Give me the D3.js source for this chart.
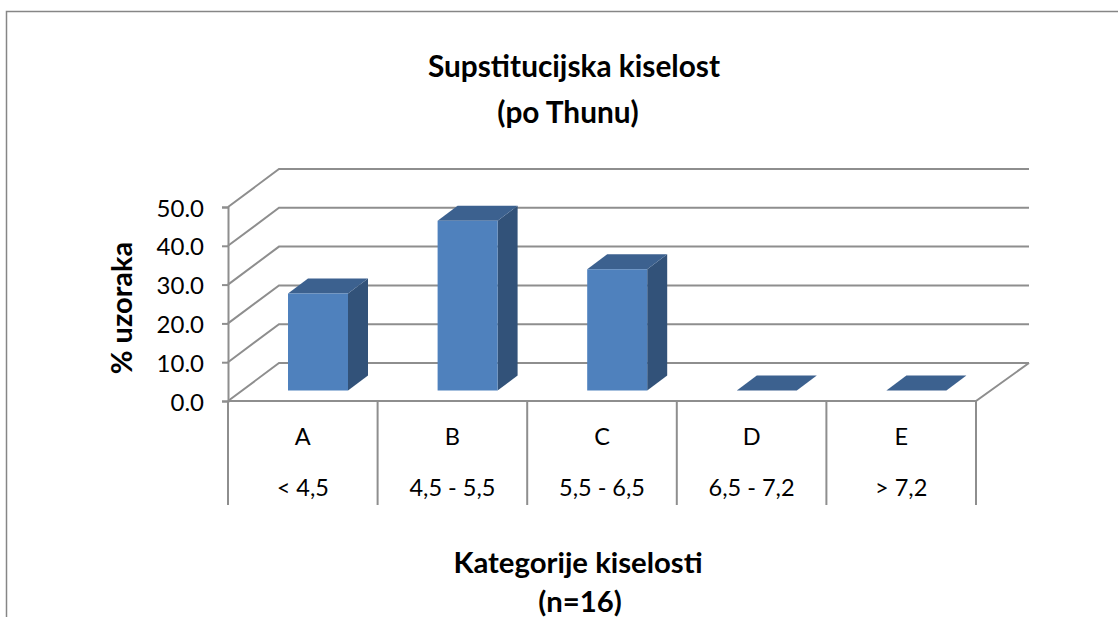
<!DOCTYPE html>
<html>
<head>
<meta charset="utf-8">
<script src="https://cdnjs.cloudflare.com/ajax/libs/d3/7.8.5/d3.min.js"></script>
<style>
  html, body { margin: 0; padding: 0; background: #fff; overflow: hidden; }
  svg { display: block; }
  text { font-family: Lato, sans-serif; fill: #000; }
</style>
</head>
<body>
<svg></svg>
<script>
// data

const categories = ['A', 'B', 'C', 'D', 'E'];
const ranges = ['< 4,5', '4,5 - 5,5', '5,5 - 6,5', '6,5 - 7,2', '> 7,2'];
const values = [25, 43.75, 31.25, 0, 0];
const yTicks = [0, 10, 20, 30, 40, 50];
const titleLines = ['Supstitucijska kiselost', '(po Thunu)'];
const xTitleLines = ['Kategorije kiselosti', '(n=16)'];
const yTitle = '% uzoraka';

// root svg element

const width = 1118, height = 617;

const svg = d3.select('svg')
  .attr('width', width)
  .attr('height', height);

const gridColor = '#8e8e8e';

// outer frame of the chart

svg.append('path')
  .attr('d', `M6.5,${height}V11.5H${width}`)
  .attr('fill', 'none')
  .attr('stroke', '#868686')
  .attr('stroke-width', 1.5);

// scales

const xScale = d3.scaleBand()
  .domain(categories)
  .range([228, 976]);

const yScale = d3.scaleLinear()
  .domain([0, 50])
  .range([401, 207]);

// 3d offsets: wall depth, bar depth, and where a bar stands on the floor
const wall = { dx: 51, dy: -38 };
const bar = { dx: 20, dy: -15, lift: 10.5, inset: 60, width: 60 };

// back wall grid lines with their slanted part on the side wall

const gridLine = d3.line();

const gridG = svg.append('g')
  .attr('fill', 'none')
  .attr('stroke', gridColor)
  .attr('stroke-width', 2);

gridG.selectAll('path')
  .data(yTicks)
  .enter()
  .append('path')
  .attr('d', d => gridLine([
    [xScale.range()[0], yScale(d)],
    [xScale.range()[0] + wall.dx, yScale(d) + wall.dy],
    [xScale.range()[1] + wall.dx + 2, yScale(d) + wall.dy]
  ]));

// floor front edge and right edge

gridG.append('path')
  .attr('d', gridLine([
    [xScale.range()[0], yScale(0)],
    [xScale.range()[1], yScale(0)],
    [xScale.range()[1] + wall.dx + 2, yScale(0) + wall.dy]
  ]));

// y-axis

const yAxis = d3.axisLeft(yScale)
  .tickValues(yTicks)
  .tickSize(6)
  .tickPadding(18)
  .tickFormat(d3.format('.1f'));

const yAxisG = svg.append('g')
  .attr('transform', `translate(${xScale.range()[0]},0)`)
  .call(yAxis);

yAxisG.selectAll('path, line')
  .attr('stroke', gridColor)
  .attr('stroke-width', 2);

yAxisG.selectAll('text')
  .attr('dy', '0.38em')
  .style('font-family', 'Lato, sans-serif')
  .style('font-size', '24px');

// category axis, two label rows split by long separators

const sepBottom = 505;

svg.append('g')
  .selectAll('line')
  .data(categories.concat(['end']))
  .enter()
  .append('line')
  .attr('x1', (d, i) => i < categories.length ? xScale(d) : xScale.range()[1])
  .attr('x2', (d, i) => i < categories.length ? xScale(d) : xScale.range()[1])
  .attr('y1', yScale(0))
  .attr('y2', sepBottom)
  .attr('stroke', gridColor)
  .attr('stroke-width', 2);

svg.append('g')
  .selectAll('text')
  .data(categories)
  .enter()
  .append('text')
  .attr('x', d => xScale(d) + xScale.bandwidth() / 2)
  .attr('y', 445)
  .attr('text-anchor', 'middle')
  .style('font-size', '23.5px')
  .text(d => d);

svg.append('g')
  .selectAll('text')
  .data(ranges)
  .enter()
  .append('text')
  .attr('x', (d, i) => xScale(categories[i]) + xScale.bandwidth() / 2)
  .attr('y', 496)
  .attr('text-anchor', 'middle')
  .style('font-size', '23.5px')
  .text(d => d);

// bars: side, top, then front face

const barsG = svg.append('g')
  .selectAll('g')
  .data(values)
  .enter()
  .append('g');

const barLeft = (i) => xScale(categories[i]) + bar.inset;
const barBase = () => yScale(0) - bar.lift;
const barTop = (d) => yScale(d) - bar.lift;

barsG.filter(d => d > 0)
  .append('path')
  .attr('fill', '#325279')
  .attr('d', function(d) {
    const i = values.indexOf(d);
    const x = barLeft(i) + bar.width;
    return `M${x},${barTop(d)}l${bar.dx},${bar.dy}V${barBase() + bar.dy}l${-bar.dx},${-bar.dy}Z`;
  });

barsG.append('path')
  .attr('fill', '#3c618f')
  .attr('d', (d, i) => {
    const x = barLeft(i);
    return `M${x},${barTop(d)}l${bar.dx},${bar.dy}h${bar.width}l${-bar.dx},${-bar.dy}Z`;
  });

barsG.filter(d => d > 0)
  .append('rect')
  .attr('fill', '#4f81bd')
  .attr('x', d => barLeft(values.indexOf(d)))
  .attr('y', d => barTop(d))
  .attr('width', bar.width)
  .attr('height', d => barBase() - barTop(d));

// titles

const titleG = svg.append('g')
  .attr('text-anchor', 'middle')
  .style('font-weight', 'bold')
  .style('font-size', '29.8px');

titleG.selectAll('text')
  .data(titleLines)
  .enter()
  .append('text')
  .attr('x', (d, i) => i === 0 ? 574 : 568)
  .attr('y', (d, i) => 77 + i * 46)
  .text(d => d);

const xTitleG = svg.append('g')
  .attr('text-anchor', 'middle')
  .style('font-weight', 'bold')
  .style('font-size', '29.3px');

xTitleG.selectAll('text')
  .data(xTitleLines)
  .enter()
  .append('text')
  .attr('x', (d, i) => i === 0 ? 578 : 580)
  .attr('y', (d, i) => 573 + i * 39)
  .text(d => d);

svg.append('text')
  .attr('transform', 'translate(132,308) rotate(-90)')
  .attr('text-anchor', 'middle')
  .style('font-weight', 'bold')
  .style('font-size', '29px')
  .text(yTitle);
</script>
</body>
</html>
